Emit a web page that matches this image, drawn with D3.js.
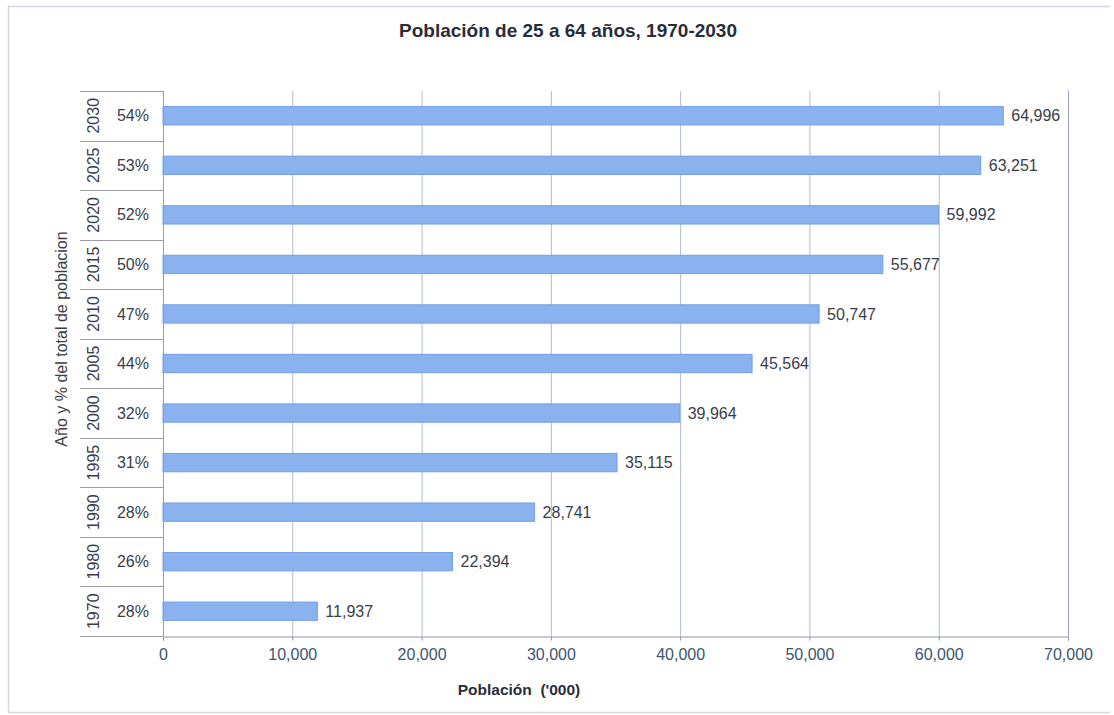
<!DOCTYPE html>
<html>
<head>
<meta charset="utf-8">
<script src="https://cdn.jsdelivr.net/npm/d3@7"></script>
<style>
body{margin:0;background:#fff;font-family:"Liberation Sans",Arial,sans-serif;}
</style>
</head>
<body>
<div id="chart"></div>
<script>
// data, top row first
const years=['2030','2025','2020','2015','2010','2005','2000','1995','1990','1980','1970'];
const shares=['54%','53%','52%','50%','47%','44%','32%','31%','28%','26%','28%'];
const population=[64996,63251,59992,55677,50747,45564,39964,35115,28741,22394,11937];
const xTicks=[0,10000,20000,30000,40000,50000,60000,70000];

const width=1114, height=715;
const margin={top:91,bottom:79,left:163,right:46};

const svg=d3.select('#chart')
.append('svg')
.attr('width',width)
.attr('height',height);

// outer frame of the chart
svg.append('path')
.attr('d','M1110,6.5H8.5V712.5H1110')
.attr('fill','none')
.attr('stroke','#d2d6e0')
.attr('stroke-width',1.5);

const x=d3.scaleLinear()
.domain([0,70000])
.range([margin.left,width-margin.right]);

const y=d3.scaleBand()
.domain(years)
.range([margin.top,height-margin.bottom])
.padding(0);

const barH=y.bandwidth()*0.37;

// vertical gridlines
svg.append('g')
.selectAll('line')
.data(xTicks.slice(1))
.join('line')
    .attr('x1',d=>x(d)+0.5)
    .attr('x2',d=>x(d)+0.5)
    .attr('y1',margin.top)
    .attr('y2',height-margin.bottom)
    .attr('stroke',(d,i)=>i==xTicks.length-2?'#9aa3bd':'#aebbd6')
    .attr('stroke-width',1);

// category separators on the left (two level axis)
const seps=years.map(d=>y(d)).concat([height-margin.bottom]);
svg.append('g')
.selectAll('line')
.data(seps)
.join('line')
    .attr('x1',80)
    .attr('x2',margin.left)
    .attr('y1',d=>Math.round(d)+0.5)
    .attr('y2',d=>Math.round(d)+0.5)
    .attr('stroke','#9a9ca8')
    .attr('stroke-width',1);

// bars
svg.append('g')
.selectAll('rect')
.data(population)
.join('rect')
    .attr('x',x(0))
    .attr('y',(d,i)=>y(years[i])+(y.bandwidth()-barH)/2)
    .attr('width',d=>x(d)-x(0))
    .attr('height',barH)
    .attr('fill','#8ab2ee')
    .attr('stroke','#739fe2')
    .attr('stroke-width',1);

// value labels
svg.append('g')
.selectAll('text')
.data(population)
.join('text')
    .attr('x',d=>x(d)+8)
    .attr('y',(d,i)=>y(years[i])+y.bandwidth()/2)
    .attr('dy','0.35em')
    .attr('font-size','16px')
    .attr('fill','#3a3d4a')
    .text(d=>d3.format(',')(d));

// x axis
const xAxis=svg.append('g')
.attr('transform',`translate(0,${height-margin.bottom+0.5})`)
.call(d3.axisBottom(x).tickValues(xTicks).tickFormat(d3.format(',')).tickSize(4).tickPadding(8));
xAxis.select('.domain').attr('stroke','#8e93a6');
xAxis.selectAll('.tick line').attr('stroke','#8e93a6');
xAxis.selectAll('text')
.attr('font-family','"Liberation Sans",Arial,sans-serif')
.attr('font-size','16px')
.attr('fill','#3d5470');

// y axis line at zero
svg.append('line')
.attr('x1',x(0)+0.5).attr('x2',x(0)+0.5)
.attr('y1',margin.top).attr('y2',height-margin.bottom)
.attr('stroke','#8a9fc8');

// percent labels
svg.append('g')
.selectAll('text')
.data(shares)
.join('text')
    .attr('x',149)
    .attr('y',(d,i)=>y(years[i])+y.bandwidth()/2)
    .attr('dy','0.35em')
    .attr('text-anchor','end')
    .attr('font-size','16px')
    .attr('fill','#3a3d4a')
    .text(d=>d);

// rotated year labels
svg.append('g')
.selectAll('text')
.data(years)
.join('text')
    .attr('transform',d=>`translate(93,${y(d)+y.bandwidth()/2}) rotate(-90)`)
    .attr('dy','0.35em')
    .attr('text-anchor','middle')
    .attr('font-size','16px')
    .attr('fill','#3a3d4a')
    .text(d=>d);

// titles
svg.append('text')
.attr('x',568).attr('y',37)
.attr('text-anchor','middle')
.attr('font-size','19px')
.attr('font-weight','bold')
.attr('fill','#2a2c38')
.text('Población de 25 a 64 años, 1970-2030');

svg.append('text')
.attr('x',519).attr('y',695)
.attr('text-anchor','middle')
.attr('font-size','15.5px')
.attr('font-weight','bold')
.attr('fill','#2a2c38')
.style('white-space','pre')
.text("Población  ('000)");

svg.append('text')
.attr('transform','translate(61,339) rotate(-90)')
.attr('dy','0.35em')
.attr('text-anchor','middle')
.attr('font-size','16px')
.attr('fill','#3a3d4a')
.text('Año y % del total de poblacion');
</script>
</body>
</html>
